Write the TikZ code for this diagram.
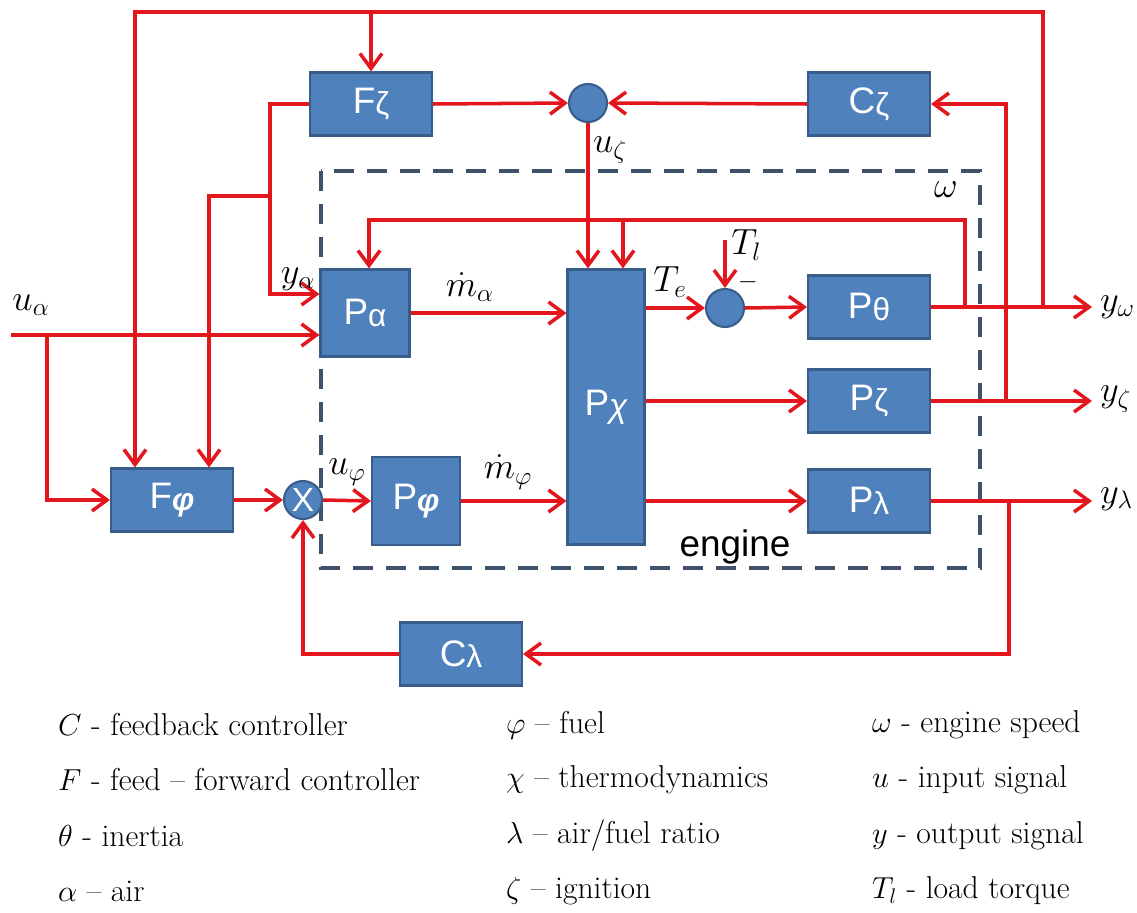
\documentclass[tikz,border=0pt]{standalone}
\usepackage{fontspec}
\newfontfamily\boxfont{Liberation Sans}
\usetikzlibrary{arrows.meta,calc}
\definecolor{blkblue}{RGB}{79,129,189}
\definecolor{blkedge}{RGB}{56,93,138}
\definecolor{sigred}{RGB}{226,22,28}
\definecolor{engline}{RGB}{62,82,108}
\newcommand{\blab}[2]{#1{\fontsize{18}{18}\selectfont\raisebox{-1pt}{#2}}}

\begin{document}
\begin{tikzpicture}[x=0.02cm, y=-0.02cm,
    box/.style={draw=blkedge, line width=1.2pt, fill=blkblue, text=white, inner sep=0pt,
      font=\boxfont\fontsize{21}{24}\selectfont},
    wide/.style={minimum width=2.44cm, minimum height=1.26cm},
    sum/.style={circle, draw=blkedge, line width=1.2pt, fill=blkblue, text=white, inner sep=0pt,
      minimum size=0.76cm, font=\boxfont\fontsize{19}{20}\selectfont},
    arr/.style={draw=sigred, line width=2pt, -{Straight Barb[length=3mm,width=4.4mm]}},
    lbl/.style={font=\fontsize{20}{24}\selectfont},
    leg/.style={anchor=west, font=\rmfamily\fontsize{18}{22}\selectfont}]
  \useasboundingbox (0,0) rectangle (1137,913);
  % Engine frame
  \draw[engline, line width=2pt, dash pattern=on 0.4cm off 0.26cm] (321,171) rectangle (980,568);
  % Controllers
  \node[box, wide] (Fz) at (371,104) {\blab{F}{ζ}};
  \node[box, wide] (Cz) at (869,104) {\blab{C}{ζ}};
  \node[box, wide] (Ff) at (172,500) {F{\fontsize{18}{18}\selectfont\bfseries\itshape\raisebox{-1pt}{φ}}};
  \node[box, wide] (Cl) at (461,654) {\blab{C}{λ}};
  % Junctions
  \node[sum] (sumz) at (588,103) {};
  \node[sum] (sumt) at (725,308) {};
  \node[sum] (mult) at (303,500) {X};
  % Engine blocks
  \node[box, minimum width=1.78cm, minimum height=1.74cm] (Pa) at (365,313) {\blab{P}{α}};
  \node[box, minimum width=1.54cm, minimum height=5.5cm] (Px) at (606,407) {P{\fontsize{19}{19}\selectfont\itshape\raisebox{-1pt}{χ}}};
  \node[box, minimum width=1.76cm, minimum height=1.76cm] (Pf) at (416,501) {P{\fontsize{18}{18}\selectfont\bfseries\itshape\raisebox{-1pt}{φ}}};
  \node[box, wide] (Pth) at (869,307) {\blab{P}{θ}};
  \node[box, wide] (Pz) at (869,401) {\blab{P}{ζ}};
  \node[box, wide] (Pl) at (869,501) {\blab{P}{λ}};
  \node[font=\boxfont\fontsize{21}{24}\selectfont] (eng) at (735,547) {engine};
  % Branch points and free ends
  \coordinate (ua) at (11,335);
  \coordinate (ub) at (47,335);
  \coordinate (ya) at (270,294);
  \coordinate (yb) at (270,196);
  \coordinate (topl) at (135,12);
  \coordinate (wtap) at (1043,307);
  \coordinate (fbk) at (369,220);
  \coordinate (fbx) at (623,220);
  \coordinate (ftap) at (965,307);
  \coordinate (ztap) at (1006,401);
  \coordinate (ltap) at (1009,501);
  \coordinate (tl) at (725,240);
  \coordinate (yw) at (1092,307);
  \coordinate (yz) at (1092,401);
  \coordinate (yl) at (1092,501);

  % Inputs and feed-forward
  \draw[arr] (ua) -- (ua -| Pa.west);
  \draw[arr] (ub) |- (Ff.west);
  \draw[arr] (Fz.west) -| (ya) -- (ya -| Pa.west);
  \draw[arr] (yb) -| ($(Ff.north)+(37,0)$);
  \draw[arr] (wtap) |- (topl) -- (topl |- Ff.north);
  \draw[arr] (Fz.north |- topl) -- (Fz.north);
  \draw[arr] (Fz.east) -- (sumz.west);
  \draw[arr] (Cz.west) -- (sumz.east);
  \draw[arr] (sumz.south) -- (sumz.south |- Px.north);
  % Inner feedback
  \draw[arr] (ftap) |- (fbk) -- (fbk |- Pa.north);
  \draw[arr] (fbx) -- (fbx |- Px.north);
  % Engine paths
  \draw[arr] (Pa.east) -- (Pa.east -| Px.west);
  \draw[arr] (Px.east |- sumt) -- (sumt.west);
  \draw[arr] (tl) -- (sumt.north);
  \draw[arr] (sumt.east) -- (Pth.west);
  \draw[arr] (Px.east |- Pz) -- (Pz.west);
  \draw[arr] (Px.east |- Pl) -- (Pl.west);
  \draw[arr] (Ff.east) -- (mult.west);
  \draw[arr] (mult.east) -- (Pf.west);
  \draw[arr] (Pf.east) -- (Pf.east -| Px.west);
  % Outputs
  \draw[arr] (Pth.east) -- (yw);
  \draw[arr] (Pz.east) -- (yz);
  \draw[arr] (Pl.east) -- (yl);
  \draw[arr] (ztap) |- (Cz.east);
  \draw[arr] (ltap) |- (Cl.east);
  \draw[arr] (Cl.west) -| (mult.south);

  % Signal labels
  \node[lbl] (lua) at (31,305) {$u_\alpha$};
  \node[lbl] (lya) at (298,279) {$y_\alpha$};
  \node[lbl] (lma) at (470,287) {$\dot m_\alpha$};
  \node[lbl] (luz) at (610,150) {$u_\zeta$};
  \node[lbl] (lw) at (946,190) {$\omega$};
  \node[lbl] (lte) at (670,282) {$T_e$};
  \node[lbl, anchor=west, inner sep=0pt] (ltl) at (731,245) {$T_l$};
  \node[font=\fontsize{14}{14}\selectfont, inner sep=0pt] (lmin) at (748,282) {$-$};
  \node[lbl] (luf) at (347,472) {$u_\varphi$};
  \node[lbl] (lmf) at (508,472) {$\dot m_\varphi$};
  \node[lbl, anchor=west] (lyw) at (1094,307) {$y_\omega$};
  \node[lbl, anchor=west] (lyz) at (1094,399) {$y_\zeta$};
  \node[lbl, anchor=west] (lyl) at (1094,499) {$y_\lambda$};

  % Legend
  \node[leg] (g1) at (52,725) {$C$ - feedback controller};
  \node[leg] (g2) at (52,780) {$F$ - feed -- forward controller};
  \node[leg] (g3) at (52,836) {$\theta$ - inertia};
  \node[leg] (g4) at (52,891) {$\alpha$ -- air};
  \node[leg] (g5) at (500,725) {$\varphi$ -- fuel};
  \node[leg] (g6) at (500,780) {$\chi$ -- thermodynamics};
  \node[leg] (g7) at (500,836) {$\lambda$ -- air/fuel ratio};
  \node[leg] (g8) at (500,891) {$\zeta$ -- ignition};
  \node[leg] (g9) at (866,725) {$\omega$ - engine speed};
  \node[leg] (g10) at (866,780) {$u$ - input signal};
  \node[leg] (g11) at (866,836) {$y$ - output signal};
  \node[leg] (g12) at (866,891) {$T_l$ - load torque};
\end{tikzpicture}
\end{document}
